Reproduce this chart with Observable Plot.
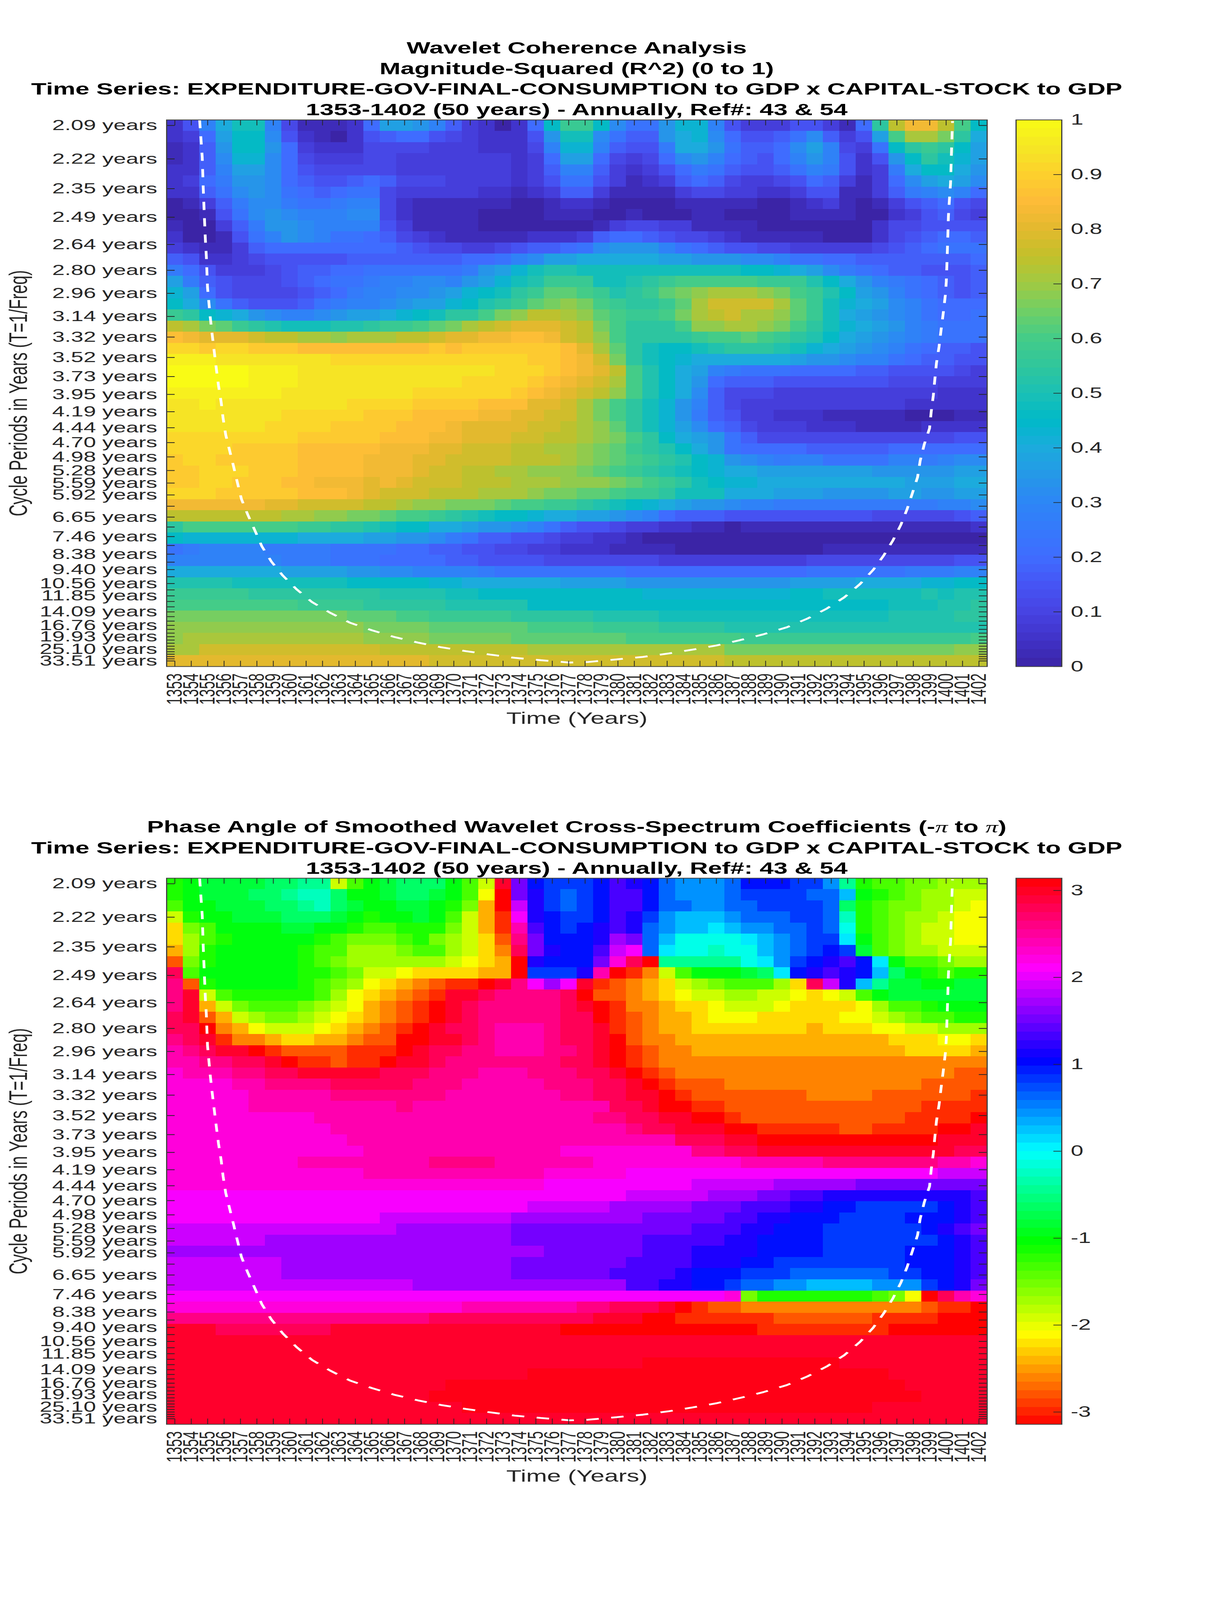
<!DOCTYPE html>
<html>
<head>
<meta charset="utf-8">
<script src="https://cdn.jsdelivr.net/npm/d3@7"></script>
<script src="https://cdn.jsdelivr.net/npm/@observablehq/plot@0.6"></script>
<style>
html,body{margin:0;padding:0;background:#fff;overflow:hidden;}
#page{position:relative;width:3125px;height:6252px;overflow:hidden;font-family:"Liberation Sans",Arial,sans-serif;transform-origin:0 0;}
.t{position:absolute;left:0;width:2952px;text-align:center;font-weight:bold;font-size:64.3px;line-height:80.5px;color:#000;white-space:nowrap;}
.t i{font-family:"Liberation Serif",serif;font-weight:normal;}
#page svg{position:absolute;overflow:visible;max-width:none;background:transparent;}
</style>
</head>
<body>
<div id="page"></div>
<script>
const years = [1353,1354,1355,1356,1357,1358,1359,1360,1361,1362,1363,1364,1365,1366,1367,1368,1369,1370,1371,1372,1373,1374,1375,1376,1377,1378,1379,1380,1381,1382,1383,1384,1385,1386,1387,1388,1389,1390,1391,1392,1393,1394,1395,1396,1397,1398,1399,1400,1401,1402];
const periods = [2.09,2.22,2.35,2.49,2.64,2.80,2.96,3.14,3.32,3.52,3.73,3.95,4.19,4.44,4.70,4.98,5.28,5.59,5.92,6.27,6.65,7.04,7.46,7.90,8.38,8.88,9.40,9.96,10.56,11.19,11.85,12.55,13.30,14.09,14.93,15.82,16.76,17.76,18.81,19.93,21.12,22.37,23.70,25.10,26.60,28.18,29.85,31.63,33.51];
const labelledPeriods = [2.09,2.22,2.35,2.49,2.64,2.80,2.96,3.14,3.32,3.52,3.73,3.95,4.19,4.44,4.70,4.98,5.28,5.59,5.92,6.65,7.46,8.38,9.40,10.56,11.85,14.09,16.76,19.93,25.10,33.51];
const cohTicks = [0,0.1,0.2,0.3,0.4,0.5,0.6,0.7,0.8,0.9,1];
const phaseTicks = [-3,-2,-1,0,1,2,3];
const cohStops = [0,0.05,0.1,0.15,0.2,0.25,0.3,0.35,0.4,0.45,0.5,0.55,0.6,0.65,0.7,0.75,0.8,0.85,0.9,0.95,1];
const cohColors = ["#3b24a6","#4032c8","#4743e2","#4655f5","#3f6cff","#3579fb","#2d86f6","#2598e7","#1cabdd","#00b9c8","#1bc0b5","#30c69c","#44cc88","#6fcf66","#9fca43","#c2c02a","#e3b92e","#fdbb38","#fdd02d","#f5e724","#f9fb15"];
const phaseColors = ["#ff0000","#ffff00","#00ff00","#00ffff","#0000ff","#ff00ff","#ff0000"];

// Cell levels, one string per row (short period at the top), 0-9a-z = level 0..35
const cohRows = [
"25aehha411 127ddca632 027gkkgb88 cffa533355 317jqttqlg",
"237dggb521 0256775432 225chhb866 cefb75568b 635dlppnje",
"126cggc732 2244443332 224affa655 9eec8667bd a438gjkjgd",
"126bffb743 3344333333 3237dd7434 7bca7657ac a525cgjhfd",
"226addb754 4444333333 3236aa6323 579865568a 95239eggec",
"2379ccb765 5676444333 3235885312 3676433457 63137bdedb",
"2268bcb876 7884333332 2123663111 1344332235 511369aba7",
"01369bb988 9aa4211111 1001221000 0111110012 3101356754",
"00158bcbaa abb4211110 0001110010 0011000011 1100235643",
"100369ccba aaa5311110 0000001344 3311110000 0002445555",
"200158acba 8876432111 1122236776 5443211111 0002456776",
"3211367777 7777654433 456678bccc a876554433 3334567888",
"6522345555 5666666677 8abddeeeee ddcccbba88 7766666667",
"9753334566 778888889c dfhiihhhhh hhhhhggfed b987665556",
"d965444567 889aabbacd fhikkkhhij klllllkkki geca987656",
"fd75444456 79aabbcdfg hjkmmlkijk mnoppponlk igdca87656",
"geb8655568 9aabcddfgi jkmnonlkjj kmprrrrpmk hfedba8777",
"kjgfecbaab cddefghjjl noqqpomlkk lnpqrppomk hedcba8778",
"qpnmkjihhh iijkklmnpq rsssrqnljj jloopponlj hfedca9888",
"utsssrqqpp opppqqrsst tuutrqoljj jjkllmlkji gedcba9888",
"wwvwwvvvuu uuuuuuvuvv vvvvuspmjh gghijjjihf edcba87665",
"yyyxxxxxxx wwwwwwwwww wwvvutrnjh gfeeeeeedc cbaa876655",
"zzzzzyyyxx xxxxxxxxxx wwwvutsqli geda988877 7766555543",
"zzzzzyyyxx xxxxxxxxww wwvutsrpli gec7666555 5555444333",
"yyyyyyyxxx xxxxxwwwww wvutsrqoli geb6444333 3333333222",
"xxyxxxxxxx xwwwwvvvvu uussrpnljh fca6433333 3333322222",
"xxxxxxxwww wwvvvuuuut tssrrpnljh fc96533222 1111100011",
"xxxxxxwwww vvvvuuutss ssrrqpomjh fdb7643332 2211112222",
"wwwwwwwwvv vvvuuuttss srrqqponlj gedc864444 4444444455",
"wwwwvvvvuu uuutttssrr rqqpponmkj igec877776 6666777777",
"vwwvvvvvuu uutttssrrr rqqqponmlk jigfcba9aa 8888aa9abb",
"vvwwwvvvuu uutttsrrqq ppooonmlkj ihgfeedddd dddcccccdd",
"vvwwvvvuut ttstsrrrqq qpppooonml kjhgffeeee eeeeedddee",
"wwwvvvvvuu utsrrrqqqp pponnmmlkk jhhheeeddd ccccddccdd",
"ttttttssrr rrqqpoonnn mllkkjihgf edccbaa999 9999999aab",
"qqqqqqqppo onnmllkjih ggfeeddcba 7666555555 5554444456",
"jlllllllkk jjihggeedc cba8655433 2211011111 1111111112",
"gfffffffee eeddccb986 6554332210 0000000000 0000000000",
"89aaaa9999 8888776655 4433222111 1000000000 1111111111",
"aaaaaaa999 8887777665 5554444444 3333333334 4444444455",
"eeeeeeeddd dccbbaaaa9 8888888877 7777777778 88888999aa",
"iiiihhhhhh hgggggffee eeeeddddcc ccccccccdd ddeeeeffgg",
"kkkkkjjjjj jjjiiiihhg gggggggggf ffffffffgg hhhhhhihii",
"llllllllkk kkjjjjjiii iigggggggg gggggggggg gggghhhiij",
"nnnnnnnnnn nmmmllkkkk kjjjjjiiii hhhhhhhhhh hhhhiiiijj",
"oooooooooo oonnnnmmmm mmllllkkkk jjjjiiiiii iiiiiiiiii",
"oppppppppp ppoooonnnn nmmmmmmmll lllllkkkkk kkkkkkkkkl",
"pprrrrrrrr rrrqqqqqqq qqpppppppp ppppnnnnnn nnnnnnnnoo",
"ssssssssss ssssssrrrr rrrrrrrrrr rrrrqqqqqq qqqqqqqqqq"
];
// Same layout; level 0 = -pi, level 35 = +pi; Y is a half level between y and z
const phaseRows = [
"bcddddeeff 7acdeeeca7 yqnmmmnpon lkkklnnnmm kfbaa99888",
"bcdddeefgg eccdeedca6 zqomlmnppn lkkklmmmml ljcba98877",
"accdddeefg edccddcb94 zsomlmnppn llkkllmmmm leba998876",
"7bccdddeee dcbccdca74 1tonmmnpom kjjjklllmm lgba988766",
"59accccddc cbaabbb974 1vpnmnopol kjjijkkllm lhba987766",
"58abcccccb a999ab9875 2wqnnnorql jhhhhijklm mica987766",
"48bcccccba a8889aa875 3xqonnpstl ihhghhjklm nmda988777",
"29bcccccba 9888888765 4zonnnquxz fffffhikmn opnicaa988",
"xaccccccbb a977655554 4zmmmovz13 7acccdeino ponjecbabb",
"w2bcccccba 9865432110 ywtrty1234 5789aaa85x sojfddccdd",
"wy7abbbbba 8654321yyx wwwwxz2234 5677887765 67acdddddd",
"wy479aaa98 764321zyxw wwwwxyz133 4556777655 5568aabccc",
"xy24789987 654321zyxw wwwwxxz123 4456665555 566789aabb",
"xx03467776 54321zyxxw vvvwxxy123 4455555554 5556677888",
"wxy1334554 43220zyyxw vvvwxxyz23 3444444444 4444555665",
"vwxyy01222 2111zyxxww vvvwwxyz12 3344444444 4444455554",
"vvwwxxyz11 211zyyxwww wwwwxxyz12 3333333333 3333333333",
"uvvvwwxxyy yyyxxxwwwv vvwwwxxyz1 2333333333 3333333322",
"uuuuvvwwww xxxxxwwwvv vvvwwwxxyz 1222333333 3333332222",
"uuuuuvvvvv wwwwwwwvvv vvvvwwxxyy z122222223 3332222221",
"uuuuuvvvvv vvvvwvvvvv vvvvvvvxxy zz11222222 2222221111",
"uuuuuuuuuv vvvvvvvvvv vvvvvvwwxx yyzz122222 2222211110",
"uuuuuuuuuu vvvvvvvvvv vvvvvvvvwx xyyyzz1111 122111100y",
"uuuuuuuuuu uvvvvvvvvv vvvvvvvvvv vxxxyyzzzz z0zzzzzyyy",
"uuuuuuuuuu uuvvvvvvvv vvvvuuuuuu uuwwxxyyyy yyyyyyyyxx",
"uuuuuuuuvv vvvvvvwwww vvvvvvuuuu uuuuuvvvvv wwwwwwwvvu",
"uuuuuuuuuu uuvvvvvvvv vvvuuuuutt tttttttttt tttttttsss",
"uuuuuuuuuu uuuuuuuuuu uuuttttttt ttsssssrrr rrqqqqqqqq",
"tttttttttt tttttttttt ttttttttss sssrrrqqpp ooooooooop",
"tttttttttt tttttttttt ttsssssrrr rrqqqpppoo nnmmmmmnop",
"tttttttttt tttsssssss srrrrrrrrq qqqqppoonn nmmmmnnnop",
"ssssssssss ssssrrrrrr rqqqqqqqqq qqpppoonnn mmmmmmnopq",
"ssssssrrrr rrrrrrrrrr rqqqqqqqqp ppppoonnnn mmmmmmmnop",
"rrrrrrrrrr rrrrrrrrrr rrrqqqqqqp ppoooonnnn mmmmmnnnop",
"sssssssrrr rrrrrrrrrr rqqqqqqqpp ppooonnmmm mmmmmnnnop",
"sssssssrrr rrrrrrrrrr rqqqqqqppp ponnnmmmll llllmmnnop",
"ssssssssss sssssrrrrr rrrrrrrrpp oonnmllkkj jjjkkkmnoq",
"tttttttttt tttttttttt tttttttttt ttttu9bbbb bbba960xvu",
"uuuuuuuuuu uuuuuuuuvv vvvvvwwxxx yz12233333 3333332110",
"wwwwwwwwww wwwwwwxxxx xxxxxxyyyz z111111222 222111100z",
"yyyxxxxxxx yyyyyyyyyy yyyyzzzzzz zzzzzz1111 1111zzzzzz",
"yyyyyyyyyy yyyyyyyyyy yyyyyyyyyy yyyyyyyyyy yyyyyyyyyy",
"yyyyyyyyyy yyyyyyyyyy yyyyyyyyyy yyyyyyyyyy yyyyyyyyyy",
"yyyyyyyyyy yyyyyyyyyy yyyyyyyyyY YYYYYYYYYY Yyyyyyyyyy",
"yyyyyyyyyy yyyyyyyyyy yyYYYYYYYY YYYYYYYYYY YYYYyyyyyy",
"yyyyyyyyyy yyyyyyyYYY YYYYYYYYYY YYYYYYYYYY YYYYYyyyyy",
"yyyyyyyyyy yyyyyyYYYY YYYYYYYYYY YYYYYYYYYY YYYYYYyyyy",
"yyyyyyyyyy yyyyyyyyYY YYYYYYYYYY YYYYYYYYYY YYYyyyyyyy",
"yyyyyyyyyy yyyyyyyyyy yyyyyyyyyy yyyyyyyyyy yyyyyyyyyy"
];
// Cone of influence
const coiYear = [1354.51,1354.67,1354.73,1354.80,1354.86,1354.92,1354.99,1355.15,1355.27,1355.40,1355.53,1355.66,1355.82,1355.94,1356.10,1356.33,1356.58,1356.80,1357.06,1357.44,1357.86,1358.30,1358.88,1359.58,1360.41,1361.36,1362.45,1363.66,1365.00,1366.37,1367.81,1369.24,1370.74,1372.21,1373.71,1375.30,1377.05,1378.17,1379.92,1381.52,1383.11,1384.55,1385.98,1387.42,1388.85,1390.29,1391.56,1392.74,1393.79,1394.75,1395.55,1396.19,1396.76,1397.24,1397.62,1397.94,1398.26,1398.42,1398.67,1398.99,1399.09,1399.22,1399.31,1399.41,1399.57,1399.69,1399.82,1399.95,1400.01,1400.08,1400.14,1400.20,1400.27,1400.33,1400.39];
const coiPeriod = [2.07,2.214,2.348,2.488,2.612,2.713,2.917,3.138,3.291,3.459,3.644,3.837,4.051,4.289,4.56,4.841,5.189,5.556,6.046,6.556,7.157,7.94,8.837,9.867,11.11,12.63,14.22,16.14,17.99,20.02,22.10,24.22,26.29,28.40,30.81,32.82,35.09,34.5,32.08,30.09,27.65,25.43,23.39,21.18,19.19,17.23,15.29,13.55,12.03,10.61,9.428,8.469,7.641,6.951,6.371,5.873,5.44,5.06,4.73,4.45,4.193,3.964,3.766,3.58,3.411,3.258,3.118,2.975,2.877,2.665,2.484,2.402,2.325,2.184,2.074];

const titles1 = ["Wavelet Coherence Analysis","Magnitude-Squared (R^2) (0 to 1)","Time Series: EXPENDITURE-GOV-FINAL-CONSUMPTION to GDP x CAPITAL-STOCK to GDP","1353-1402 (50 years) - Annually, Ref#: 43 &amp; 54"];
const titles2 = ["Phase Angle of Smoothed Wavelet Cross-Spectrum Coefficients (-<i>&#960;</i> to <i>&#960;</i>)","Time Series: EXPENDITURE-GOV-FINAL-CONSUMPTION to GDP x CAPITAL-STOCK to GDP","1353-1402 (50 years) - Annually, Ref#: 43 &amp; 54"];

const page = document.getElementById("page");
// The window can be shorter than the 6252 px layout: fit the whole page into it.
const fit = Math.min(1, window.innerHeight / 6252);
if (fit < 1) page.style.transform = `scale(1,${fit})`;
const INK = "#262626", FRAME = "#404040";
const level = c => c === "Y" ? 34.5 : parseInt(c, 36);
const cohValue = c => level(c) / 35;
const phaseValue = c => -Math.PI + level(c) / 35 * 2 * Math.PI;
const fFirst = 1 / periods[0], fLast = 1 / periods[48], df = (fFirst - fLast) / 48;
const fTop = fFirst + df / 2, fBot = fLast - df / 2;
const stamp = (svg, left, top) => { svg.style.left = left + "px"; svg.style.top = top + "px"; page.appendChild(svg); };

function panel(rows, value, colorScale, top, plotH) {
  const cells = rows.flatMap((s, r) => {
    const chars = s.replace(/ /g, "");
    const fc = fFirst - r * df;
    return years.map((yr, c) => ({yr, f1: fc - df / 2, f2: fc + df / 2, v: value(chars[c] ?? chars[chars.length - 1])}));
  });
  const coi = coiYear.map((yr, i) => ({yr, f: 1 / coiPeriod[i]}));
  const plotW = 2100, mT = 68, mB = 300;
  const svg = Plot.plot({
    width: 2600, height: mT + plotH + mB,
    marginLeft: 426, marginRight: 74, marginTop: mT, marginBottom: mB,
    style: {fontFamily: '"Liberation Sans",Arial,sans-serif', fontSize: "58px", color: INK, background: "transparent", overflow: "visible"},
    x: {domain: [1352.5, 1402.5], label: null},
    y: {domain: [fBot, fTop], label: null},
    color: colorScale,
    marks: [
      Plot.rect(cells, {x1: d => d.yr - 0.5, x2: d => d.yr + 0.5, y1: "f1", y2: "f2", fill: "v", shapeRendering: "crispEdges"}),
      Plot.line(coi, {x: "yr", y: "f", stroke: "#fff", strokeWidth: 7, strokeDasharray: "32,32", strokeLinecap: "butt", strokeLinejoin: "miter"}),
      Plot.ruleX(years, {x: d => d, insetTop: plotH - 22, stroke: INK, strokeWidth: 2}),
      Plot.ruleX(years, {x: d => d, insetBottom: plotH - 22, stroke: INK, strokeWidth: 2}),
      Plot.ruleY(periods, {y: d => 1 / d, insetRight: plotW - 21, stroke: INK, strokeWidth: 3}),
      Plot.ruleY(periods, {y: d => 1 / d, insetLeft: plotW - 21, stroke: INK, strokeWidth: 3}),
      Plot.frame({stroke: FRAME, strokeWidth: 3}),
      Plot.axisX({anchor: "bottom", ticks: years, tickFormat: d => String(d), tickRotate: -90, tickSize: 0, tickPadding: 27, fontSize: 55, fill: INK, label: null}),
      Plot.axisY({anchor: "left", ticks: labelledPeriods.map(p => 1 / p), tickFormat: f => (1 / f).toFixed(2) + " years", tickSize: 0, tickPadding: 24, fontSize: 57.6, fill: INK, label: null}),
      Plot.text(["Time (Years)"], {frameAnchor: "bottom", dy: 224, lineAnchor: "bottom", textAnchor: "middle", fontSize: 64, fill: INK}),
      Plot.text(["Cycle Periods in Years (T=1/Freq)"], {frameAnchor: "left", dx: -378, rotate: -90, textAnchor: "middle", fontSize: 64, fill: INK})
    ]
  });
  stamp(svg, 0, top - mT);
}

function colorbar(domain, ticks, colorScale, top, plotH) {
  const [lo, hi] = domain, n = 64, step = (hi - lo) / n;
  const bands = d3.range(n).map(i => ({a: lo + i * step, b: lo + (i + 1) * step, v: lo + (i + 0.5) * step}));
  const mT = 68, mB = 68;
  const svg = Plot.plot({
    width: 500, height: mT + plotH + mB,
    marginLeft: 100, marginRight: 283, marginTop: mT, marginBottom: mB,
    style: {fontFamily: '"Liberation Sans",Arial,sans-serif', fontSize: "58px", color: INK, background: "transparent", overflow: "visible"},
    x: {domain: [0, 1], axis: null},
    y: {domain, label: null},
    color: colorScale,
    marks: [
      Plot.rect(bands, {x1: 0, x2: 1, y1: "a", y2: "b", fill: "v", shapeRendering: "crispEdges"}),
      Plot.ruleY(ticks, {y: d => d, insetLeft: 117 - 21, stroke: INK, strokeWidth: 2.5}),
      Plot.frame({stroke: FRAME, strokeWidth: 3}),
      Plot.axisY({anchor: "right", ticks, tickFormat: d => String(d), tickSize: 0, tickPadding: 23, fontSize: 58, fill: INK, label: null})
    ]
  });
  stamp(svg, 2500, top - mT);
}

function titles(lines, top) {
  const d = document.createElement("div");
  d.className = "t";
  d.style.top = top + "px";
  d.innerHTML = lines.join("<br>");
  page.appendChild(d);
}

const cohScale = {type: "linear", domain: cohStops, range: cohColors, clamp: true};
const phaseScale = {type: "linear", domain: d3.range(7).map(k => -Math.PI + k * Math.PI / 3), range: phaseColors, clamp: true};

titles(titles1, 147);
panel(cohRows, cohValue, cohScale, 468, 2136);
colorbar([0, 1], cohTicks, cohScale, 468, 2136);
titles(titles2, 3191);
panel(phaseRows, phaseValue, phaseScale, 3431, 2134);
colorbar([-Math.PI, Math.PI], phaseTicks, phaseScale, 3431, 2134);
</script>
</body>
</html>
